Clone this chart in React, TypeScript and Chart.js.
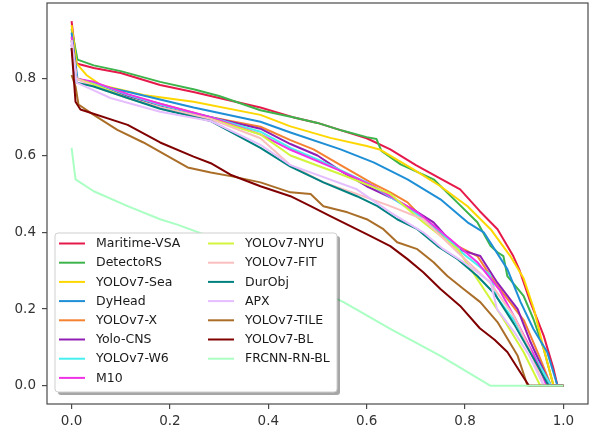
import React, { useEffect, useRef } from "react";
import { Chart, registerables } from "chart.js";

Chart.register(...registerables);

// ---- Data (recall -> precision curves) ----
const xTicks = [0, 0.2, 0.4, 0.6, 0.8, 1.0];
const yTicks = [0, 0.2, 0.4, 0.6, 0.8];

const seriesNames = [
  "Maritime-VSA", "DetectoRS", "YOLOv7-Sea", "DyHead", "YOLOv7-X", "Yolo-CNS", "YOLOv7-W6", "M10",
  "YOLOv7-NYU", "YOLOv7-FIT", "DurObj", "APX", "YOLOv7-TILE", "YOLOv7-BL", "FRCNN-RN-BL",
];
const seriesColors = [
  "#e6194b", "#3cb44b", "#ffd700", "#1e8fd6", "#f58231", "#911eb4", "#46f0f0", "#f032e6",
  "#d2f53c", "#fabebe", "#008080", "#e6beff", "#aa6e28", "#800000", "#aaffc3",
];

const maritimeRecall = [0, 0.01, 0.045, 0.1, 0.18, 0.25, 0.3, 0.384, 0.45, 0.5, 0.55, 0.6, 0.648, 0.7, 0.75, 0.79, 0.83, 0.866, 0.898, 0.91, 0.933, 0.96, 0.98, 0.988, 1.0];
const maritimePrecision = [0.95, 0.84, 0.828, 0.815, 0.784, 0.765, 0.75, 0.725, 0.7, 0.685, 0.665, 0.645, 0.616, 0.575, 0.54, 0.512, 0.455, 0.408, 0.338, 0.304, 0.218, 0.13, 0.044, 0, 0];

const detectorsRecall = [0, 0.012, 0.045, 0.1, 0.18, 0.25, 0.3, 0.384, 0.45, 0.5, 0.55, 0.6, 0.62, 0.63, 0.669, 0.736, 0.784, 0.825, 0.852, 0.866, 0.878, 0.886, 0.919, 0.939, 0.96, 0.98, 1.0];
const detectorsPrecision = [0.93, 0.85, 0.835, 0.82, 0.792, 0.772, 0.755, 0.718, 0.7, 0.685, 0.665, 0.648, 0.643, 0.612, 0.577, 0.538, 0.478, 0.426, 0.364, 0.348, 0.338, 0.286, 0.234, 0.174, 0.096, 0, 0];

const seaRecall = [0, 0.01, 0.03, 0.059, 0.146, 0.248, 0.384, 0.445, 0.526, 0.6, 0.628, 0.695, 0.75, 0.805, 0.852, 0.892, 0.919, 0.94, 0.96, 0.98, 1.0];
const seaPrecision = [0.94, 0.84, 0.81, 0.784, 0.758, 0.74, 0.706, 0.676, 0.646, 0.625, 0.615, 0.564, 0.52, 0.468, 0.408, 0.338, 0.28, 0.2, 0.096, 0, 0];

const dyheadRecall = [0, 0.012, 0.045, 0.114, 0.248, 0.384, 0.445, 0.547, 0.614, 0.683, 0.75, 0.805, 0.838, 0.886, 0.913, 0.939, 0.967, 0.988, 1.0];
const dyheadPrecision = [0.92, 0.8, 0.785, 0.766, 0.725, 0.688, 0.66, 0.616, 0.582, 0.538, 0.486, 0.426, 0.4, 0.304, 0.218, 0.148, 0.088, 0, 0];

const v7xRecall = [0, 0.01, 0.045, 0.114, 0.18, 0.283, 0.384, 0.445, 0.492, 0.547, 0.608, 0.648, 0.683, 0.73, 0.785, 0.825, 0.86, 0.89, 0.92, 0.95, 0.975, 1.0];
const v7xPrecision = [0.9, 0.8, 0.79, 0.758, 0.735, 0.7, 0.675, 0.64, 0.616, 0.575, 0.53, 0.504, 0.478, 0.416, 0.364, 0.338, 0.27, 0.22, 0.17, 0.08, 0, 0];

const cnsRecall = [0, 0.01, 0.045, 0.114, 0.18, 0.283, 0.384, 0.445, 0.5, 0.547, 0.6, 0.65, 0.7, 0.736, 0.785, 0.831, 0.865, 0.907, 0.933, 0.974, 1.0];
const cnsPrecision = [0.89, 0.8, 0.79, 0.755, 0.73, 0.7, 0.67, 0.63, 0.6, 0.56, 0.52, 0.49, 0.455, 0.426, 0.356, 0.338, 0.27, 0.2, 0.114, 0, 0];

const w6Recall = [0, 0.01, 0.045, 0.114, 0.18, 0.283, 0.384, 0.445, 0.5, 0.55, 0.6, 0.65, 0.7, 0.75, 0.8, 0.85, 0.865, 0.9, 0.94, 0.975, 1.0];
const w6Precision = [0.9, 0.8, 0.79, 0.758, 0.732, 0.7, 0.662, 0.62, 0.59, 0.56, 0.53, 0.49, 0.45, 0.4, 0.34, 0.29, 0.23, 0.17, 0.08, 0, 0];

const m10Recall = [0, 0.01, 0.045, 0.114, 0.18, 0.283, 0.384, 0.445, 0.547, 0.614, 0.703, 0.77, 0.825, 0.87, 0.9, 0.94, 0.966, 1.0];
const m10Precision = [0.91, 0.8, 0.792, 0.76, 0.735, 0.7, 0.655, 0.615, 0.56, 0.52, 0.452, 0.382, 0.322, 0.25, 0.18, 0.08, 0, 0];

const nyuRecall = [0, 0.01, 0.045, 0.114, 0.18, 0.283, 0.384, 0.445, 0.55, 0.648, 0.715, 0.785, 0.825, 0.878, 0.919, 0.953, 1.0];
const nyuPrecision = [0.9, 0.8, 0.785, 0.75, 0.725, 0.695, 0.655, 0.6, 0.55, 0.5, 0.426, 0.356, 0.278, 0.174, 0.088, 0, 0];

const fitRecall = [0, 0.01, 0.045, 0.114, 0.18, 0.283, 0.384, 0.445, 0.512, 0.58, 0.648, 0.715, 0.785, 0.85, 0.9, 0.93, 0.96, 1.0];
const fitPrecision = [0.9, 0.8, 0.78, 0.75, 0.725, 0.695, 0.645, 0.575, 0.53, 0.5, 0.468, 0.434, 0.348, 0.27, 0.18, 0.1, 0, 0];

const durRecall = [0, 0.01, 0.045, 0.114, 0.18, 0.283, 0.384, 0.445, 0.512, 0.58, 0.622, 0.662, 0.703, 0.744, 0.785, 0.825, 0.86, 0.9, 0.94, 0.97, 1.0];
const durPrecision = [0.88, 0.79, 0.78, 0.75, 0.722, 0.69, 0.62, 0.571, 0.53, 0.494, 0.468, 0.434, 0.408, 0.364, 0.33, 0.286, 0.24, 0.16, 0.07, 0, 0];

const apxRecall = [0, 0.01, 0.045, 0.079, 0.18, 0.283, 0.384, 0.445, 0.58, 0.648, 0.715, 0.756, 0.797, 0.852, 0.865, 0.9, 0.93, 0.96, 1.0];
const apxPrecision = [0.9, 0.79, 0.77, 0.75, 0.714, 0.69, 0.628, 0.575, 0.512, 0.452, 0.4, 0.356, 0.322, 0.27, 0.2, 0.14, 0.08, 0, 0];

const tileRecall = [0, 0.008, 0.014, 0.045, 0.093, 0.146, 0.2, 0.236, 0.283, 0.329, 0.384, 0.445, 0.486, 0.512, 0.561, 0.6, 0.634, 0.662, 0.703, 0.736, 0.764, 0.797, 0.831, 0.866, 0.907, 0.927, 1.0];
const tilePrecision = [0.81, 0.78, 0.733, 0.706, 0.667, 0.634, 0.595, 0.569, 0.556, 0.545, 0.53, 0.504, 0.5, 0.468, 0.452, 0.434, 0.408, 0.374, 0.356, 0.322, 0.286, 0.252, 0.218, 0.166, 0.078, 0, 0];

const blRecall = [0, 0.008, 0.018, 0.114, 0.18, 0.248, 0.283, 0.323, 0.384, 0.445, 0.486, 0.526, 0.567, 0.608, 0.648, 0.683, 0.715, 0.75, 0.79, 0.83, 0.86, 0.886, 0.91, 0.93, 1.0];
const blPrecision = [0.88, 0.74, 0.72, 0.68, 0.634, 0.597, 0.58, 0.55, 0.52, 0.494, 0.468, 0.442, 0.416, 0.39, 0.364, 0.33, 0.296, 0.252, 0.208, 0.15, 0.12, 0.088, 0.04, 0, 0];

const frcnnRecall = [0, 0.008, 0.045, 0.114, 0.18, 0.215, 0.3, 0.4, 0.5, 0.553, 0.648, 0.75, 0.852, 1.0];
const frcnnPrecision = [0.62, 0.538, 0.507, 0.468, 0.434, 0.42, 0.38, 0.32, 0.25, 0.218, 0.148, 0.078, 0, 0];

const seriesRecall = [maritimeRecall, detectorsRecall, seaRecall, dyheadRecall, v7xRecall, cnsRecall, w6Recall, m10Recall, nyuRecall, fitRecall, durRecall, apxRecall, tileRecall, blRecall, frcnnRecall];
const seriesPrecision = [maritimePrecision, detectorsPrecision, seaPrecision, dyheadPrecision, v7xPrecision, cnsPrecision, w6Precision, m10Precision, nyuPrecision, fitPrecision, durPrecision, apxPrecision, tilePrecision, blPrecision, frcnnPrecision];

const FONT = "'DejaVu Sans', sans-serif";

const frameAndLegend = {
  id: "frameAndLegend",
  afterDraw(chart: any) {
    const { ctx, chartArea } = chart;
    ctx.save();
    // axes frame
    ctx.strokeStyle = "#4a4a4a";
    ctx.lineWidth = 1.2;
    ctx.strokeRect(chartArea.left, chartArea.top, chartArea.right - chartArea.left, chartArea.bottom - chartArea.top);

    // legend
    const rowH = 19.2;
    const rows = 8;
    const colW = 149;
    const boxW = 282;
    const boxH = 159;
    const x0 = chartArea.left + 8;
    const y0 = chartArea.bottom - 12 - boxH;
    const r = 3;
    const rr = (x: number, y: number, w: number, h: number) => {
      ctx.beginPath();
      ctx.moveTo(x + r, y);
      ctx.lineTo(x + w - r, y);
      ctx.quadraticCurveTo(x + w, y, x + w, y + r);
      ctx.lineTo(x + w, y + h - r);
      ctx.quadraticCurveTo(x + w, y + h, x + w - r, y + h);
      ctx.lineTo(x + r, y + h);
      ctx.quadraticCurveTo(x, y + h, x, y + h - r);
      ctx.lineTo(x, y + r);
      ctx.quadraticCurveTo(x, y, x + r, y);
      ctx.closePath();
    };
    rr(x0 + 3, y0 + 3, boxW, boxH);
    ctx.fillStyle = "rgba(0,0,0,0.35)";
    ctx.fill();
    rr(x0, y0, boxW, boxH);
    ctx.fillStyle = "#ffffff";
    ctx.fill();
    ctx.strokeStyle = "#cfcfcf";
    ctx.lineWidth = 1;
    ctx.stroke();

    ctx.font = `12.5px ${FONT}`;
    ctx.textBaseline = "middle";
    ctx.textAlign = "left";
    seriesNames.forEach((name, i) => {
      const col = Math.floor(i / rows);
      const row = i % rows;
      const lx = x0 + 4 + col * colW;
      const ly = y0 + 10.5 + row * rowH;
      ctx.strokeStyle = seriesColors[i];
      ctx.lineWidth = 2;
      ctx.beginPath();
      ctx.moveTo(lx, ly);
      ctx.lineTo(lx + 26, ly);
      ctx.stroke();
      ctx.fillStyle = "#1a1a1a";
      ctx.fillText(name, lx + 37, ly + 0.5);
    });
    ctx.restore();
  },
};

export default function App() {
  const ref = useRef<HTMLCanvasElement | null>(null);
  useEffect(() => {
    if (!ref.current) return;
    const n = seriesNames.length;
    const chart = new Chart(ref.current, {
      type: "line",
      data: {
        datasets: seriesNames.map((name, i) => ({
          label: name,
          data: seriesRecall[i].map((r, k) => ({ x: r, y: seriesPrecision[i][k] })),
          borderColor: seriesColors[i],
          backgroundColor: seriesColors[i],
          borderWidth: 2,
          pointRadius: 0,
          tension: 0,
          fill: false,
          borderJoinStyle: "round" as const,
          order: n - i,
        })),
      },
      options: {
        responsive: false,
        animation: false,
        devicePixelRatio: 1,
        layout: { padding: { left: 0, right: 7, top: 3, bottom: 0 }, autoPadding: false },
        plugins: { legend: { display: false }, tooltip: { enabled: false } },
        scales: {
          x: {
            type: "linear",
            min: -0.05,
            max: 1.05,
            afterBuildTicks: (s: any) => { s.ticks = xTicks.map((v) => ({ value: v })); },
            afterFit: (s: any) => { s.height = 32; s.paddingLeft = 0; s.paddingRight = 0; },
            ticks: {
              callback: (v: any) => Number(v).toFixed(1),
              font: { family: FONT, size: 13.5 },
              color: "#333333",
              padding: 4,
              maxRotation: 0,
            },
            grid: { drawOnChartArea: false, drawTicks: true, tickLength: 5, color: "#4a4a4a", lineWidth: 1.2 },
            border: { display: false },
          },
          y: {
            type: "linear",
            min: -0.0475,
            max: 0.9975,
            afterBuildTicks: (s: any) => { s.ticks = yTicks.map((v) => ({ value: v })); },
            afterFit: (s: any) => { s.width = 47; s.paddingTop = 0; s.paddingBottom = 0; },
            ticks: {
              callback: (v: any) => Number(v).toFixed(1),
              font: { family: FONT, size: 13.5 },
              color: "#333333",
              padding: 6,
            },
            grid: { drawOnChartArea: false, drawTicks: true, tickLength: 5, color: "#4a4a4a", lineWidth: 1.2 },
            border: { display: false },
          },
        },
      },
      plugins: [frameAndLegend],
    });
    return () => chart.destroy();
  }, []);
  return (
    <div style={{ position: "absolute", left: 0, top: 0, width: 595, height: 436, background: "#fff" }}>
      <canvas ref={ref} width={595} height={436} style={{ width: 595, height: 436, display: "block" }} />
    </div>
  );
}
